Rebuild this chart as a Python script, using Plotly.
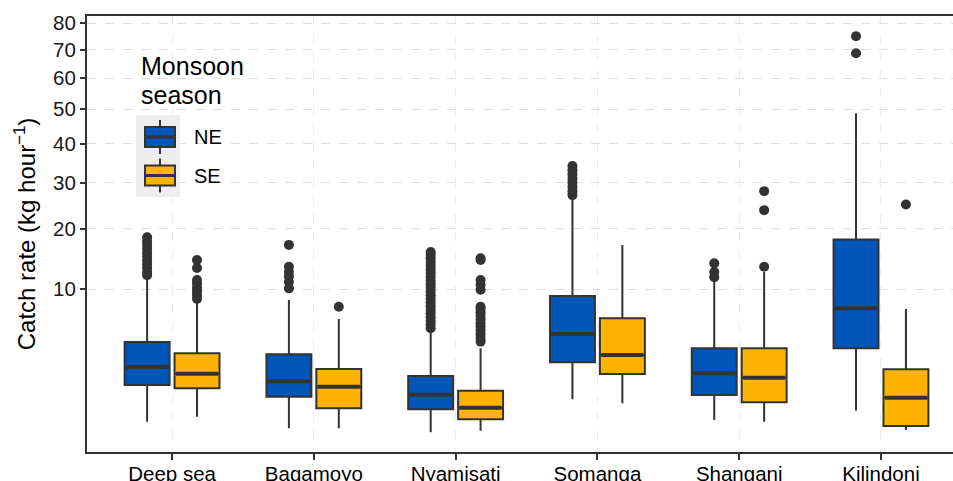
import numpy as np
import plotly.graph_objects as go

# ---- data (kg hour^-1) ----
sites = ["Deep sea", "Bagamoyo", "Nyamisati", "Somanga", "Shangani", "Kilindoni"]
seasons = ["NE", "SE"]

ne_q1 = [1.158, 0.676, 0.300, 2.465, 0.738, 3.512]
ne_median = [2.152, 1.339, 0.748, 4.774, 1.769, 7.524]
ne_q3 = [4.044, 3.038, 1.618, 9.066, 3.512, 18.0]
ne_lower = [0.077, 0.018, 0.0023, 0.585, 0.099, 0.267]
ne_upper = [11.5, 8.55, 4.90, 25.99, 11.28, 48.76]

se_q1 = [1.008, 0.325, 0.109, 1.729, 0.490, 0.034]
se_median = [1.748, 1.080, 0.340, 2.986, 1.525, 0.640]
se_q3 = [3.115, 2.028, 0.906, 6.381, 3.512, 2.008]
se_lower = [0.150, 0.018, 0.0069, 0.460, 0.077, 0.0096]
se_upper = [8.29, 6.31, 3.51, 16.97, 12.48, 7.44]

ne_outliers = [
    [18.4, 17.6, 17.0, 16.3, 15.6, 15.0, 14.3, 13.7, 13.1, 12.5, 12.0],
    [17.0, 13.3, 12.5, 11.8, 11.0, 10.1],
    [5.34, 5.71, 6.10, 6.50, 6.92, 7.34, 7.78, 8.24, 8.70, 9.18, 9.67,
     10.18, 10.69, 11.22, 11.76, 12.32, 12.89, 13.47, 14.06, 14.67, 15.29, 15.76],
    [34.1, 33.0, 32.0, 31.0, 30.0, 29.0, 28.0, 27.1],
    [13.85, 12.5, 11.7],
    [75.0, 68.7],
]
se_outliers = [
    [14.4, 13.1, 11.3, 10.8, 10.2, 9.7, 9.2, 8.7],
    [7.72],
    [14.7, 14.4, 11.3, 10.6, 9.9, 7.72, 7.51, 7.08, 6.66, 6.25, 5.86, 5.48,
     5.11, 4.75, 4.41, 4.08],
    [],
    [28.0, 23.8, 13.3],
    [25.0],
]

y_ticks = [10, 20, 30, 40, 50, 60, 70, 80]
legend_title = ["Monsoon", "season"]

colors = {"NE": "#0055B8", "SE": "#FDB300"}
dark = "#333333"
font = "Liberation Sans, Arial, sans-serif"

# ---- geometry ----
W, H = 953, 481
ML, MR, MT, MB = 87, 0, 16, 29
PW, PH = W - ML - MR, H - MT - MB


def px(x):
    return (x - ML) / PW


def py(y):
    return (H - MB - y) / PH


offset = 0.176
bw = 0.317
idx = np.arange(1, len(sites) + 1)
pos = {"NE": idx - offset, "SE": idx + offset}
stats = {
    "NE": (ne_q1, ne_median, ne_q3, ne_lower, ne_upper, ne_outliers),
    "SE": (se_q1, se_median, se_q3, se_lower, se_upper, se_outliers),
}

fig = go.Figure()

for s in seasons:
    q1, med, q3, lo, up, outl = stats[s]
    fig.add_trace(go.Box(
        x=pos[s], q1=np.sqrt(q1), median=np.sqrt(med), q3=np.sqrt(q3),
        lowerfence=np.sqrt(lo), upperfence=np.sqrt(up),
        width=bw, whiskerwidth=0, boxpoints=False,
        fillcolor=colors[s], line=dict(color=dark, width=2),
        name=s, showlegend=False, hoverinfo="skip",
    ))

for s in seasons:
    q1, med, q3, lo, up, outl = stats[s]
    mx, my = [], []
    for p, m in zip(pos[s], med):
        mx += [p - bw / 2 + 0.01, p + bw / 2 - 0.01, None]
        my += [np.sqrt(m), np.sqrt(m), None]
    fig.add_trace(go.Scatter(x=mx, y=my, mode="lines",
                             line=dict(color=dark, width=4),
                             showlegend=False, hoverinfo="skip"))
    ox, oy = [], []
    for p, vals in zip(pos[s], outl):
        ox += [p] * len(vals)
        oy += list(np.sqrt(vals))
    fig.add_trace(go.Scatter(x=ox, y=oy, mode="markers",
                             marker=dict(color=dark, size=10),
                             showlegend=False, hoverinfo="skip"))

# ---- legend (drawn manually, ggplot style) ----
shapes = [dict(type="rect", xref="paper", yref="paper", layer="above",
               x0=px(136), x1=px(180), y0=py(197), y1=py(115),
               fillcolor="#EEEEEE", line=dict(width=0))]
annotations = []
for i, t in enumerate(legend_title):
    annotations.append(dict(text=t, xref="paper", yref="paper", x=px(139),
                            y=py(66 + 29 * i), xanchor="left", yanchor="middle",
                            showarrow=False, font=dict(size=25, color="#000")))
for i, s in enumerate(seasons):
    cy = 137 + 38.5 * i
    shapes.append(dict(type="line", xref="paper", yref="paper", layer="above",
                       x0=px(160), x1=px(160), y0=py(cy - 17), y1=py(cy + 17),
                       line=dict(color=dark, width=2)))
    shapes.append(dict(type="rect", xref="paper", yref="paper", layer="above",
                       x0=px(145), x1=px(175), y0=py(cy + 10), y1=py(cy - 10),
                       fillcolor=colors[s], line=dict(color=dark, width=2)))
    shapes.append(dict(type="line", xref="paper", yref="paper", layer="above",
                       x0=px(145), x1=px(175), y0=py(cy), y1=py(cy),
                       line=dict(color=dark, width=3)))
    annotations.append(dict(text=s, xref="paper", yref="paper", x=px(192),
                            y=py(cy), xanchor="left", yanchor="middle",
                            showarrow=False, font=dict(size=20, color="#000")))

fig.update_layout(
    width=W, height=H,
    margin=dict(l=ML, r=MR, t=MT, b=MB),
    paper_bgcolor="white", plot_bgcolor="white",
    boxmode="overlay",
    font=dict(family=font, color="#000000", size=20),
    showlegend=False,
    shapes=shapes, annotations=annotations,
    xaxis=dict(
        range=[0.4, 6.508], tickmode="array", tickvals=list(idx), ticktext=sites,
        showgrid=True, gridcolor="#EBEBEB", griddash="dash", gridwidth=1,
        zeroline=False, showline=True, linecolor=dark, linewidth=2, mirror=True,
        ticks="outside", ticklen=6, tickwidth=1.5, tickcolor=dark,
        tickfont=dict(size=20.5, color="#000"), automargin=False,
        ticklabelstandoff=-4,
    ),
    yaxis=dict(
        range=[-0.38, 9.10], tickmode="array",
        tickvals=list(np.sqrt(y_ticks)), ticktext=[str(t) for t in y_ticks],
        showgrid=True, gridcolor="#DEDEDE", griddash="dash", gridwidth=1.3,
        zeroline=False, showline=True, linecolor=dark, linewidth=2,
        ticks="outside", ticklen=5, tickwidth=1.5, tickcolor=dark,
        tickfont=dict(size=20.5, color="#1a1a1a"), automargin=False,
        title=dict(text="Catch rate (kg hour<sup>\u22121</sup>)",
                   font=dict(size=24, color="#000"), standoff=11),
    ),
)

fig.write_html("out.html")
